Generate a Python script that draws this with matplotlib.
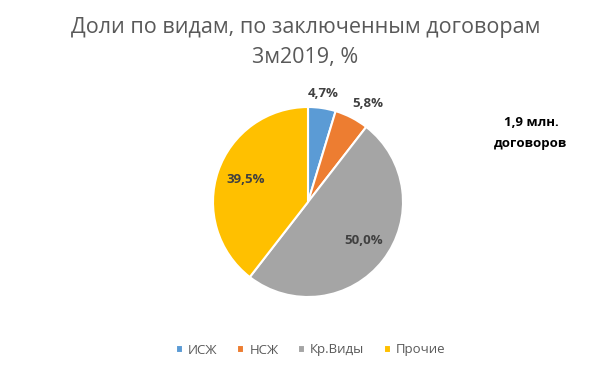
import matplotlib.pyplot as plt

# ------------------------------
# Data
# ------------------------------
categories = ["ИСЖ", "НСЖ", "Кр.Виды", "Прочие"]
shares = [4.7, 5.8, 50.0, 39.5]
colors = ["#5B9BD5", "#ED7D31", "#A5A5A5", "#FFC000"]

# label placement (data coords of the pie, radius = 1)
label_pos = [(0.16, 1.14), (0.63, 1.04), (0.59, -0.41), (-0.66, 0.24)]

plt.rcParams["font.family"] = ["Open Sans", "DejaVu Sans"]

W, H = 599, 372
fig = plt.figure(figsize=(W / 100, H / 100), dpi=100)

# pie axes: centre (308, 202) px, radius 95 px
cx, cy, r = 308, 202, 95
ax = fig.add_axes([(cx - r) / W, 1 - (cy + r) / H, 2 * r / W, 2 * r / H])
wedges, _ = ax.pie(shares, colors=colors, startangle=90, counterclock=False,
                   wedgeprops=dict(edgecolor="white", linewidth=1.5))
ax.set_xlim(-1, 1)
ax.set_ylim(-1, 1)
ax.set_aspect("equal")
ax.axis("off")

for v, (x, y) in zip(shares, label_pos):
    ax.text(x, y, f"{v:.1f}%".replace(".", ","), ha="center", va="center",
            fontsize=9.5, fontweight="bold", color="#404040", clip_on=False)

fig.text(0.51, 1 - 27 / H, "Доли по видам, по заключенным договорам",
         ha="center", va="center", fontsize=15.5, color="#595959")
fig.text(0.51, 1 - 58 / H, "3м2019, %",
         ha="center", va="center", fontsize=15.5, color="#595959")

fig.text(531 / W, 1 - 133 / H, "1,9 млн.\nдоговоров", ha="center", va="center",
         fontsize=9.5, fontweight="bold", color="black", linespacing=1.8)

fig.legend(wedges, categories, loc="center", bbox_to_anchor=(311 / W, 1 - 350 / H),
           ncol=4, frameon=False, fontsize=9.5, handlelength=0.5, handleheight=0.5,
           handletextpad=0.4, columnspacing=1.5, labelcolor="#595959")

plt.savefig("out.png", dpi=100)
